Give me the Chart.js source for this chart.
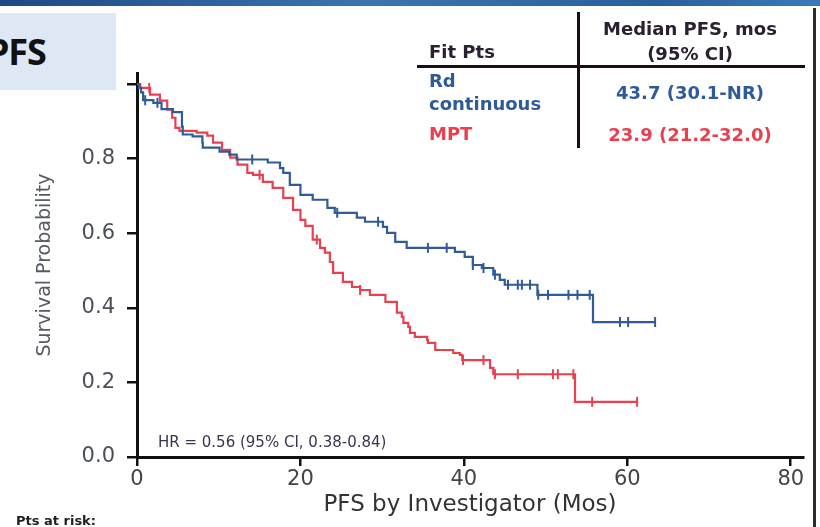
<!DOCTYPE html>
<html>
<head>
<meta charset="utf-8">
<script src="https://cdn.jsdelivr.net/npm/chart.js@4.4.0/dist/chart.umd.min.js"></script>
<style>
  html, body { margin: 0; padding: 0; background: #fff; }
  #wrap { position: relative; width: 820px; height: 527px; overflow: hidden; }
  #wrap canvas { position: absolute; left: 0; top: 0; }
  .topbar { position: absolute; left: 0; top: 0; width: 820px; height: 6px;
            background: linear-gradient(90deg, #1d4a86, #3b74b0 45%, #2a5f9e 80%, #3a79b8); }
  .rightline { position: absolute; left: 813px; top: 8px; width: 3px; height: 519px; background: #2b2b2b; }
  .pfsbox { position: absolute; left: 0; top: 13px; width: 116px; height: 77px; background: #dde8f4; overflow: hidden; }
  .pfsbox span { position: absolute; left: -13px; top: 14px; font: bold 36px "Noto Sans", sans-serif; color: #111; letter-spacing: -1px; }
  .t { position: absolute; font: bold 18px "DejaVu Sans", sans-serif; white-space: nowrap; line-height: 1; }
  .c { transform: translate(-50%, -50%); }
  .l { transform: translate(0, -50%); }
  .vline { position: absolute; left: 577px; top: 12px; width: 3px; height: 136px; background: #1c0c14; }
  .hline { position: absolute; left: 417px; top: 65px; width: 388px; height: 3px; background: #1c0c14; }
  .hr { position: absolute; left: 158px; top: 433px; font: 15px "DejaVu Sans", sans-serif; color: #3a3450; white-space: nowrap; }
  .risk { position: absolute; left: 16px; top: 513px; font: bold 13px "DejaVu Sans", sans-serif; color: #222; white-space: nowrap; }
</style>
</head>
<body>
<div id="wrap">
  <canvas id="km"></canvas>
  <div class="topbar"></div>
  <div class="rightline"></div>
  <div class="pfsbox"><span>PFS</span></div>
  <div class="vline"></div>
  <div class="hline"></div>
  <div class="t l" style="left:429px;top:52px;color:#2a2030">Fit Pts</div>
  <div class="t c" style="left:690px;top:29px;color:#2a2030">Median PFS, mos</div>
  <div class="t c" style="left:690px;top:54px;color:#2a2030">(95% CI)</div>
  <div class="t l" style="left:429px;top:81px;color:#2f5a9a">Rd</div>
  <div class="t l" style="left:429px;top:104px;color:#2f5a9a">continuous</div>
  <div class="t c" style="left:690px;top:93px;color:#2f5a9a">43.7 (30.1-NR)</div>
  <div class="t l" style="left:429px;top:134px;color:#e8404f">MPT</div>
  <div class="t c" style="left:690px;top:135px;color:#e8404f">23.9 (21.2-32.0)</div>
  <div class="hr">HR = 0.56 (95% CI, 0.38-0.84)</div>
  <div class="risk">Pts at risk:</div>
</div>
<script>
// Kaplan-Meier steps (months, survival after the drop)
const rdTimes = [0, 0.25, 0.5, 0.75, 2.0, 3.0, 4.4, 5.5, 5.6, 6.8, 8.0, 8.05, 10.1, 11.3, 12.2, 16.0, 17.5, 17.9, 18.7, 20.0, 21.5, 23.3, 24.2, 26.9, 27.9, 30.1, 30.6, 31.6, 33.0, 38.9, 40.1, 41.1, 42.2, 43.6, 44.4, 45.0, 49.0, 55.8, 63.4];
const rdSurv = [1.0, 0.99, 0.978, 0.957, 0.95, 0.933, 0.925, 0.886, 0.865, 0.86, 0.843, 0.83, 0.819, 0.811, 0.798, 0.79, 0.775, 0.762, 0.73, 0.703, 0.69, 0.668, 0.655, 0.642, 0.631, 0.617, 0.601, 0.577, 0.561, 0.55, 0.537, 0.515, 0.507, 0.489, 0.475, 0.462, 0.435, 0.362, 0.362];
const mptTimes = [0, 0.4, 1.6, 2.8, 3.7, 4.3, 4.7, 5.2, 7.3, 8.6, 9.3, 10.4, 11.4, 12.3, 13.5, 14.2, 15.4, 16.6, 17.9, 19.1, 20.0, 20.6, 21.5, 22.4, 23.0, 23.6, 24.0, 25.2, 26.3, 27.3, 28.5, 30.4, 31.8, 32.4, 32.6, 33.2, 33.4, 34.0, 35.5, 35.6, 36.5, 38.7, 39.5, 39.8, 43.2, 43.6, 53.6, 61.2];
const mptSurv = [1.0, 0.99, 0.972, 0.956, 0.932, 0.91, 0.883, 0.875, 0.87, 0.862, 0.843, 0.824, 0.803, 0.784, 0.762, 0.757, 0.738, 0.722, 0.695, 0.663, 0.636, 0.62, 0.583, 0.561, 0.548, 0.523, 0.494, 0.47, 0.456, 0.448, 0.435, 0.416, 0.387, 0.376, 0.36, 0.349, 0.333, 0.322, 0.314, 0.306, 0.287, 0.279, 0.274, 0.26, 0.239, 0.222, 0.148, 0.148];

// censored patients (tick marks)
const rdCensor = [1.0, 2.5, 14.1, 24.5, 29.5, 35.6, 37.9, 41.1, 42.4, 43.8, 45.4, 46.6, 47.1, 48.1, 49.1, 50.3, 52.8, 53.9, 55.4, 59.1, 60.1, 63.4];
const mptCensor = [1.5, 15.0, 22.0, 27.3, 39.9, 42.4, 43.8, 46.6, 50.9, 51.5, 53.4, 55.7, 61.2];

const xTicks = [0, 20, 40, 60, 80];
const yTicks = [0, 0.2, 0.4, 0.6, 0.8, 1.0];

const blue = "#2f5b97";
const red = "#e8404f";

function steps(times, surv) {
  return times.map((t, i) => ({ x: t, y: surv[i] }));
}

// survival level of a curve at time t
function survAt(times, surv, t) {
  let s = surv[0];
  for (let i = 0; i < times.length; i++) {
    if (times[i] <= t) s = surv[i];
  }
  return s;
}

function censorPoints(list, times, surv) {
  return list.map(t => ({ x: t, y: survAt(times, surv, t) }));
}

const tickFont = { family: "DejaVu Sans", size: 21 };

new Chart(document.getElementById("km"), {
  type: "line",
  data: {
    datasets: [
      {
        data: steps(rdTimes, rdSurv),
        borderColor: blue,
        borderWidth: 2.2,
        stepped: true,
        pointRadius: 0,
        fill: false
      },
      {
        data: steps(mptTimes, mptSurv),
        borderColor: red,
        borderWidth: 2.2,
        stepped: true,
        pointRadius: 0,
        fill: false
      },
      {
        data: censorPoints(rdCensor, rdTimes, rdSurv),
        showLine: false,
        pointStyle: "line",
        rotation: 90,
        pointRadius: 5,
        pointBorderWidth: 2,
        borderColor: blue,
        pointBorderColor: blue
      },
      {
        data: censorPoints(mptCensor, mptTimes, mptSurv),
        showLine: false,
        pointStyle: "line",
        rotation: 90,
        pointRadius: 5,
        pointBorderWidth: 2,
        borderColor: red,
        pointBorderColor: red
      }
    ]
  },
  options: {
    responsive: true,
    maintainAspectRatio: false,
    animation: false,
    layout: { padding: { top: 73, right: 17, bottom: 0, left: 0 } },
    plugins: {
      legend: { display: false },
      tooltip: { enabled: false }
    },
    scales: {
      x: {
        type: "linear",
        min: 0,
        max: 81.5,
        afterBuildTicks: axis => { axis.ticks = xTicks.map(v => ({ value: v })); },
        afterFit: axis => { axis.height = 70; },
        grid: { drawOnChartArea: false, drawTicks: true, tickLength: 9, color: "#111", lineWidth: 2.5 },
        border: { display: true, color: "#111", width: 3 },
        ticks: { font: tickFont, color: "#444", padding: 1, maxRotation: 0 },
        title: {
          display: true,
          text: "PFS by Investigator (Mos)",
          font: { family: "DejaVu Sans", size: 23 },
          color: "#333",
          padding: { top: 0, bottom: 8 }
        }
      },
      y: {
        type: "linear",
        min: 0,
        max: 1.03,
        afterBuildTicks: axis => { axis.ticks = yTicks.map(v => ({ value: v })); },
        afterFit: axis => { axis.width = 137; },
        grid: { drawOnChartArea: false, drawTicks: true, tickLength: 10, color: "#111", lineWidth: 2.5 },
        border: { display: true, color: "#111", width: 3 },
        ticks: {
          font: tickFont,
          color: "#4a4f5a",
          padding: 12,
          callback: value => value.toFixed(1)
        },
        title: {
          display: true,
          text: "Survival Probability",
          font: { family: "DejaVu Sans", size: 19 },
          color: "#555a66",
          padding: { top: 34, bottom: 0 }
        }
      }
    }
  }
});
</script>
</body>
</html>
